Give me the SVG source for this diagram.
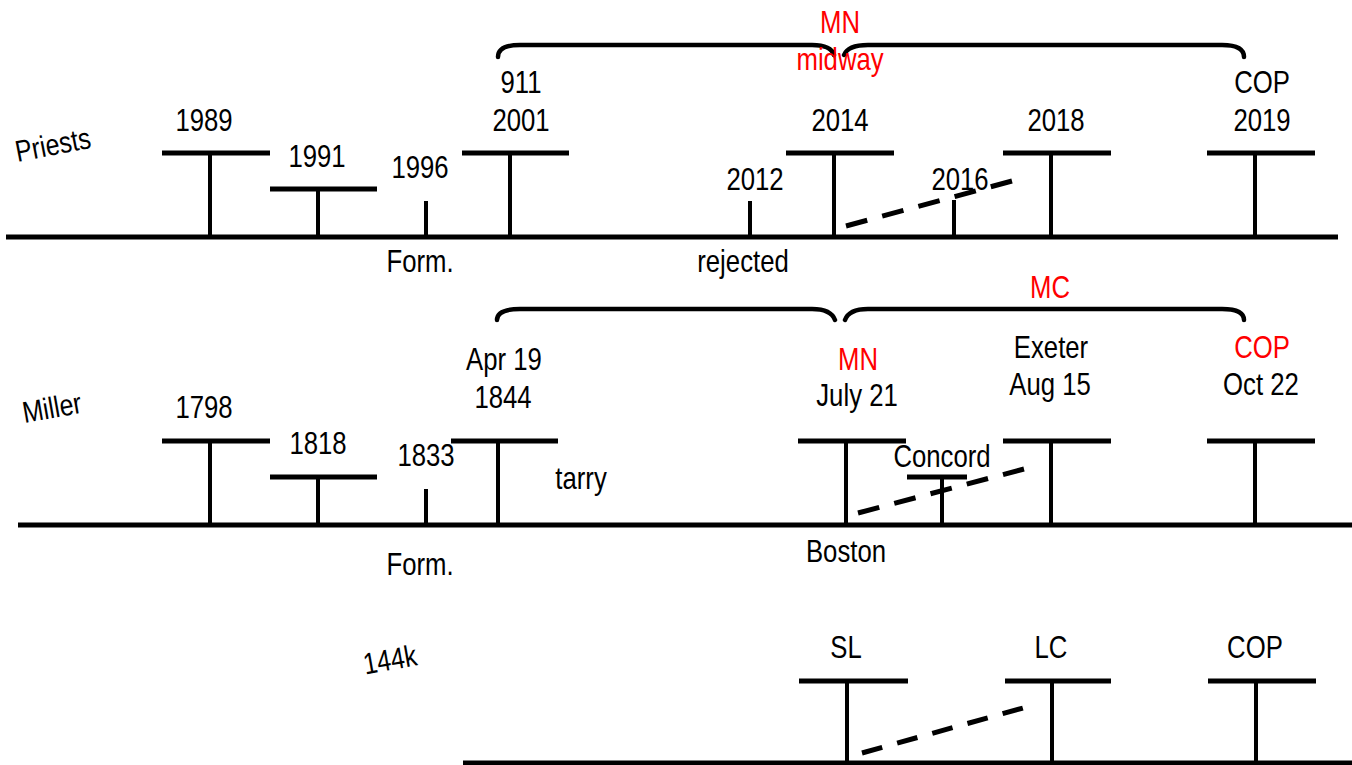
<svg xmlns="http://www.w3.org/2000/svg" width="1352" height="765" viewBox="0 0 1352 765">
<style>
text { font-family: "Liberation Sans", Arial, sans-serif; font-size: 31px; fill: #000; text-anchor: middle; transform-box: fill-box; transform-origin: center; transform: scaleX(0.83); }
text.red { fill: #ff0000; }
text.rot { font-size: 30px; }
.bar { stroke: #000; stroke-width: 5; fill: none; }
.stem { stroke: #000; stroke-width: 4; fill: none; }
.base { stroke: #000; stroke-width: 5; fill: none; }
.brace { stroke: #000; stroke-width: 4.5; fill: none; stroke-linecap: round; }
.dash { stroke: #000; stroke-width: 5; fill: none; stroke-dasharray: 22 15.5; }
.dash2 { stroke-dasharray: 21 15.5; }
</style>
<rect width="1352" height="765" fill="#fff"/>

<!-- Row labels -->
<g id="label-priests" transform="rotate(-11 53 145)"><text class="rot" x="53" y="155">Priests</text></g>
<g id="label-miller" transform="rotate(-10 52 408)"><text class="rot" x="52" y="418">Miller</text></g>
<g id="label-144k" transform="rotate(-10 390 660)"><text class="rot" x="390" y="670">144k</text></g>

<!-- Baselines -->
<g id="baselines">
<line class="base" x1="6" y1="237" x2="1338" y2="237"/>
<line class="base" x1="18" y1="525" x2="1352" y2="525"/>
<line class="base" x1="463" y1="763" x2="1352" y2="763"/>
</g>

<!-- Braces -->
<g id="braces">
<path class="brace" d="M498,57 Q498,45 520,45 L812,45 Q831,45 834,55 M844,55 Q848,45 868,45 L1222,45 Q1244,45 1244,57"/>
<path class="brace" d="M497,320 Q497,309 520,309 L812,309 Q831,309 835,320 M845,320 Q849,309 868,309 L1222,309 Q1244,309 1244,320"/>
<text class="red" x="840" y="33">MN</text>
<text class="red" x="840" y="70">midway</text>
<text class="red" x="1050" y="298">MC</text>
</g>

<!-- Priests row -->
<g id="p1989"><line class="bar" x1="162" y1="153" x2="270" y2="153"/><line class="stem" x1="210" y1="153" x2="210" y2="237"/><text x="204" y="131">1989</text></g>
<g id="p1991"><line class="bar" x1="270" y1="189" x2="377" y2="189"/><line class="stem" x1="318" y1="189" x2="318" y2="237"/><text x="317" y="167">1991</text></g>
<g id="p1996"><line class="stem" x1="426" y1="201" x2="426" y2="237"/><text x="420" y="178">1996</text><text x="420" y="272">Form.</text></g>
<g id="p2001"><line class="bar" x1="462" y1="153" x2="569" y2="153"/><line class="stem" x1="510" y1="153" x2="510" y2="237"/><text x="521" y="93">911</text><text x="521" y="131">2001</text></g>
<g id="p2012"><line class="stem" x1="750" y1="201" x2="750" y2="237"/><text x="755" y="190">2012</text><text x="743" y="272">rejected</text></g>
<g id="p2014"><line class="bar" x1="786" y1="153" x2="894" y2="153"/><line class="stem" x1="834" y1="153" x2="834" y2="237"/><text x="840" y="131">2014</text></g>
<g id="p2016"><line class="stem" x1="954" y1="200" x2="954" y2="237"/><text x="960" y="190">2016</text></g>
<g id="p2018"><line class="bar" x1="1003" y1="153" x2="1111" y2="153"/><line class="stem" x1="1051" y1="153" x2="1051" y2="237"/><text x="1056" y="131">2018</text></g>
<g id="p2019"><line class="bar" x1="1207" y1="153" x2="1315" y2="153"/><line class="stem" x1="1255" y1="153" x2="1255" y2="237"/><text x="1262" y="93">COP</text><text x="1262" y="131">2019</text></g>

<!-- Miller row -->
<g id="m1798"><line class="bar" x1="162" y1="441" x2="270" y2="441"/><line class="stem" x1="210" y1="441" x2="210" y2="525"/><text x="204" y="418">1798</text></g>
<g id="m1818"><line class="bar" x1="270" y1="477" x2="377" y2="477"/><line class="stem" x1="318" y1="477" x2="318" y2="525"/><text x="318" y="454">1818</text></g>
<g id="m1833"><line class="stem" x1="426" y1="489" x2="426" y2="525"/><text x="426" y="466">1833</text><text x="420" y="575">Form.</text></g>
<g id="m1844"><line class="bar" x1="451" y1="441" x2="558" y2="441"/><line class="stem" x1="498" y1="441" x2="498" y2="525"/><text x="504" y="370">Apr 19</text><text x="503" y="408">1844</text><text x="581" y="489">tarry</text></g>
<g id="mjuly21"><line class="bar" x1="798" y1="441" x2="906" y2="441"/><line class="stem" x1="846" y1="441" x2="846" y2="525"/><text class="red" x="858" y="370">MN</text><text x="857" y="406">July 21</text><text x="846" y="562">Boston</text></g>
<g id="mconcord"><line class="bar" x1="907" y1="477" x2="967" y2="477"/><line class="stem" x1="942" y1="477" x2="942" y2="525"/><text x="942" y="467">Concord</text></g>
<g id="maug15"><line class="bar" x1="1003" y1="441" x2="1111" y2="441"/><line class="stem" x1="1051" y1="441" x2="1051" y2="525"/><text x="1051" y="358">Exeter</text><text x="1050" y="395">Aug 15</text></g>
<g id="moct22"><line class="bar" x1="1207" y1="441" x2="1315" y2="441"/><line class="stem" x1="1255" y1="441" x2="1255" y2="525"/><text class="red" x="1262" y="358">COP</text><text x="1261" y="395">Oct 22</text></g>

<!-- 144k row -->
<g id="ksl"><line class="bar" x1="799" y1="681" x2="908" y2="681"/><line class="stem" x1="847" y1="681" x2="847" y2="763"/><text x="846" y="658">SL</text></g>
<g id="klc"><line class="bar" x1="1005" y1="681" x2="1111" y2="681"/><line class="stem" x1="1052" y1="681" x2="1052" y2="763"/><text x="1051" y="658">LC</text></g>
<g id="kcop"><line class="bar" x1="1208" y1="681" x2="1316" y2="681"/><line class="stem" x1="1256" y1="681" x2="1256" y2="763"/><text x="1255" y="658">COP</text></g>

<!-- Connectors -->
<g id="connectors">
<line class="dash" x1="846" y1="226" x2="1012" y2="181"/>
<line class="dash" x1="858" y1="513" x2="1024" y2="469"/>
<line class="dash dash2" x1="862" y1="753" x2="1023" y2="708"/>
</g>
</svg>
